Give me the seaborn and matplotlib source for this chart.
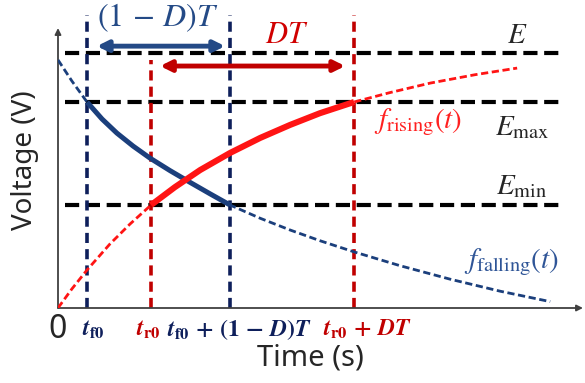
import matplotlib
matplotlib.use("Agg")
import matplotlib.pyplot as plt
import seaborn as sns
import pandas as pd

# --- curve samples: time (arbitrary units) and voltage (normalised to E) ---
t_fall = [0.00, 0.48, 1.00, 1.52, 2.03, 2.59, 3.17, 3.86, 4.55, 5.24, 5.93,
          6.97, 8.00, 9.03, 10.21, 11.79, 13.52, 15.24, 16.97]
v_fall = [0.973, 0.890, 0.808, 0.741, 0.686, 0.635, 0.588, 0.539, 0.493, 0.448, 0.404,
          0.352, 0.306, 0.264, 0.220, 0.166, 0.113, 0.066, 0.025]

t_rise = [0.00, 0.48, 1.00, 1.79, 2.48, 3.21, 4.03, 4.90, 5.93, 6.97, 8.00,
          9.03, 10.21, 11.45, 12.83, 14.38, 15.83]
v_rise = [0.000, 0.075, 0.149, 0.251, 0.329, 0.404, 0.474, 0.541, 0.608, 0.667, 0.718,
          0.764, 0.808, 0.845, 0.882, 0.915, 0.941]

# voltage levels
level_names = ["E", "E_max", "E_min"]
level_values = [1.000, 0.808, 0.404]

# switching instants
t_f0 = 1.00
t_f0_end = 5.93     # t_f0 + (1 - D) T
t_r0 = 3.21
t_r0_end = 10.21    # t_r0 + D T

tick_labels = [r"$\mathbfit{t}_{\mathbf{f0}}$",
               r"$\mathbfit{t}_{\mathbf{r0}}$",
               r"$\mathbfit{t}_{\mathbf{f0}}\mathbf{\,+\,(1\,-\,}\mathbfit{D}\mathbf{)}\mathbfit{T}$",
               r"$\mathbfit{t}_{\mathbf{r0}}\mathbf{\,+\,}\mathbfit{DT}$"]

NAVY = "#0e1f5b"
BLUE = "#1b3f7c"
RED = "#ff1414"
DARKRED = "#c00000"

sns.set_style("white")
plt.rcParams["font.family"] = ["Noto Sans", "DejaVu Sans"]
plt.rcParams["mathtext.fontset"] = "stix"

fall = pd.DataFrame({"t": t_fall, "v": v_fall})
rise = pd.DataFrame({"t": t_rise, "v": v_rise})

fig = plt.figure(figsize=(5.85, 3.83), dpi=100)
ax = fig.add_axes([58 / 585, 75 / 383, 527 / 585, 308 / 383])
ax.set_xlim(0, 18.17)
ax.set_ylim(0, 1.208)
ax.set_xticks([])
ax.set_yticks([])
sns.despine(ax=ax, left=True, bottom=True)

# axes with arrow heads
arrow_kw = dict(arrowstyle="-|>", color="#404040", lw=1.3, mutation_scale=9,
                shrinkA=0, shrinkB=0)
ax.annotate("", xy=(18.10, 0), xytext=(0, 0), arrowprops=arrow_kw, annotation_clip=False)
ax.annotate("", xy=(0, 1.098), xytext=(0, 0), arrowprops=arrow_kw, annotation_clip=False)

# horizontal voltage levels
ax.hlines(level_values, 0.24, 17.38, colors="black", lw=3,
          linestyles=[(0, (3.4, 1.6))], zorder=2)

# switching instants
vl_style = [(0, (2.8, 1.7))]
ax.vlines([t_f0, t_f0_end], 0, 1.149, colors=NAVY, lw=2.6, linestyles=vl_style, zorder=2.5)
ax.vlines([t_r0_end], 0, 1.149, colors=DARKRED, lw=2.6, linestyles=vl_style, zorder=2.5)
ax.vlines([t_r0], 0, 0.973, colors=DARKRED, lw=2.6, linestyles=vl_style, zorder=2.5)

# full curves, dashed
sns.lineplot(data=fall, x="t", y="v", ax=ax, color=BLUE, lw=2.0, sort=False,
             estimator=None, linestyle=(0, (2.6, 1.3)), zorder=3)
sns.lineplot(data=rise, x="t", y="v", ax=ax, color=RED, lw=2.0, sort=False,
             estimator=None, linestyle=(0, (2.6, 1.3)), zorder=3)

# active intervals, solid
fall_on = fall[(fall.t >= t_f0) & (fall.t <= t_f0_end)]
rise_on = rise[(rise.t >= t_r0) & (rise.t <= t_r0_end)]
sns.lineplot(data=fall_on, x="t", y="v", ax=ax, color=BLUE, lw=3.6, sort=False,
             estimator=None, zorder=4, solid_capstyle="butt", solid_joinstyle="round")
sns.lineplot(data=rise_on, x="t", y="v", ax=ax, color=RED, lw=4.4, sort=False,
             estimator=None, zorder=4.5, solid_capstyle="butt", solid_joinstyle="round")
ax.set_xlabel("")
ax.set_ylabel("")

# interval arrows
ax.annotate("", xy=(5.76, 1.027), xytext=(1.34, 1.027),
            arrowprops=dict(arrowstyle="<|-|>", color="#244a86", lw=3.5,
                            mutation_scale=16, shrinkA=0, shrinkB=0),
            annotation_clip=False)
ax.annotate("", xy=(9.90, 0.949), xytext=(3.52, 0.949),
            arrowprops=dict(arrowstyle="<|-|>", color=DARKRED, lw=3.5,
                            mutation_scale=16, shrinkA=0, shrinkB=0),
            annotation_clip=False)
ax.text(3.45, 1.137, r"$(1\,-\,D)T$", color="#244a86", fontsize=23, ha="center", va="center")
ax.text(7.90, 1.070, r"$DT$", color="#d00000", fontsize=22, ha="center", va="center")

# level labels
ax.text(15.83, 1.070, r"$E$", fontsize=21, ha="center", va="center")
ax.text(16.00, 0.706, r"$E_{\mathrm{max}}$", fontsize=21, ha="center", va="center")
ax.text(16.00, 0.475, r"$E_{\mathrm{min}}$", fontsize=21, ha="center", va="center")

# curve labels
ax.text(12.41, 0.730, r"$f_{\mathrm{rising}}(t)$", color="#ff2020", fontsize=21,
        ha="center", va="center")
ax.text(15.62, 0.180, r"$f_{\mathrm{falling}}(t)$", color="#2f5597", fontsize=21,
        ha="center", va="center")

# time-axis labels
ax.text(-0.03, -0.085, "0", fontsize=23, ha="center", va="center", clip_on=False)
tick_x = [1.21, 3.10, 6.24, 10.66]
tick_colors = [NAVY, DARKRED, NAVY, DARKRED]
for x, lab, c in zip(tick_x, tick_labels, tick_colors):
    ax.text(x, -0.085, lab, color=c, fontsize=17, ha="center", va="center", clip_on=False)

ax.text(8.72, -0.196, "Time (s)", fontsize=21, ha="center", va="center", clip_on=False)
ax.text(-1.14, 0.58, "Voltage (V)", fontsize=20, rotation=90, ha="center", va="center",
        clip_on=False)

fig.savefig("out.png", dpi=100)
